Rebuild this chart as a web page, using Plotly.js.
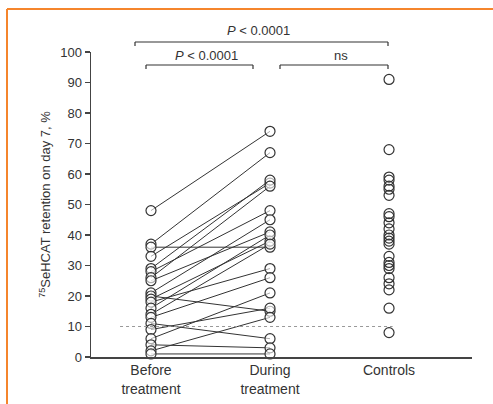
<!DOCTYPE html>
<html>
<head>
<meta charset="utf-8">
<script src="https://cdn.plot.ly/plotly-3.0.1.min.js"></script>
<style>
  html, body { margin: 0; padding: 0; background: #fff; }
  #chart { width: 493px; height: 404px; }
</style>
</head>
<body>
<div id="chart"></div>
<script>
// ---- data ----
const categories = ['Before<br>treatment', 'During<br>treatment', 'Controls'];
const categoryX = [1, 2, 3];
// paired patients: before[i] -> during[i]
const before = [48, 37, 36, 33, 29, 28, 26, 25, 21, 20, 19, 18, 16, 14, 13, 11, 9, 6, 4, 2, 1];
const during = [74, 67, 36, 57, 58, 48, 56, 41, 45, 15, 38, 29, 40, 37, 26, 6, 16, 21, 3, 13, 1];
const controls = [91, 68, 59, 58, 56, 55, 53, 47, 46, 44, 42, 40, 39, 38, 37, 33, 31, 30, 29, 26, 24, 22, 16, 8];
const yTickVals = [0, 10, 20, 30, 40, 50, 60, 70, 80, 90, 100];
const cutoff = 10;
const pLabels = ['<i>P</i> < 0.0001', '<i>P</i> < 0.0001', 'ns'];

// ---- layout geometry ----
const W = 493, H = 404;
const M = { l: 91, r: 21, t: 52, b: 47 };
const xRange = [0.496, 3.697];
const pw = W - M.l - M.r, ph = H - M.t - M.b;
const pxX = px => (px - M.l) / pw;
const pxY = py => (H - M.b - py) / ph;

const ink = '#333333';
const font = 'Liberation Sans, Arial, Helvetica, sans-serif';

// connecting lines
const lx = [], ly = [];
before.forEach((b, i) => {
  lx.push(categoryX[0], categoryX[1], null);
  ly.push(b, during[i], null);
});

const traces = [
  { x: lx, y: ly, mode: 'lines', type: 'scatter', line: { color: ink, width: 1 },
    hoverinfo: 'skip', showlegend: false, cliponaxis: false },
  { x: before.map(() => categoryX[0]), y: before, mode: 'markers', type: 'scatter',
    marker: { symbol: 'circle', size: 10, color: 'rgba(255,255,255,0.6)', line: { color: ink, width: 1.2 } },
    showlegend: false, cliponaxis: false },
  { x: during.map(() => categoryX[1]), y: during, mode: 'markers', type: 'scatter',
    marker: { symbol: 'circle', size: 10, color: 'rgba(255,255,255,0.6)', line: { color: ink, width: 1.2 } },
    showlegend: false, cliponaxis: false },
  { x: controls.map(() => categoryX[2]), y: controls, mode: 'markers', type: 'scatter',
    marker: { symbol: 'circle-open', size: 10, color: ink, line: { color: ink, width: 1.2 } },
    showlegend: false, cliponaxis: false }
];

function bracket(x0px, x1px, ypx, tick) {
  const x0 = pxX(x0px), x1 = pxX(x1px), y = pxY(ypx), yt = pxY(ypx + tick);
  const ln = { color: ink, width: 1.2 };
  return [
    { type: 'line', xref: 'paper', yref: 'paper', x0: x0, x1: x1, y0: y, y1: y, line: ln },
    { type: 'line', xref: 'paper', yref: 'paper', x0: x0, x1: x0, y0: y, y1: yt, line: ln },
    { type: 'line', xref: 'paper', yref: 'paper', x0: x1, x1: x1, y0: y, y1: yt, line: ln }
  ];
}

const orange = '#f5852c';
const shapes = [
  // dotted cut-off line
  { type: 'line', xref: 'x', yref: 'y', x0: 0.74, x1: 3.03, y0: cutoff, y1: cutoff,
    line: { color: '#999999', width: 1, dash: 'dot' } },
  ...bracket(135, 388, 42, 4),
  ...bracket(146, 253, 65, 4),
  ...bracket(280, 388, 65, 4),
  // orange frame (left and top edges)
  { type: 'line', xref: 'paper', yref: 'paper', x0: pxX(7), x1: pxX(7), y0: pxY(9), y1: pxY(410),
    line: { color: orange, width: 2 } },
  { type: 'line', xref: 'paper', yref: 'paper', x0: pxX(7), x1: pxX(500), y0: pxY(9), y1: pxY(9),
    line: { color: orange, width: 2 } }
];

const annFont = { family: font, size: 13, color: ink };
const ann = (px, py, text) => ({ xref: 'paper', yref: 'paper', x: pxX(px), y: pxY(py),
  xanchor: 'center', yanchor: 'middle', text: text, showarrow: false, font: annFont });
const annotations = [
  ann(258, 31, pLabels[0]),
  ann(206, 55, pLabels[1]),
  ann(341, 55, pLabels[2])
];

const layout = {
  width: W, height: H,
  margin: M,
  paper_bgcolor: '#ffffff', plot_bgcolor: '#ffffff',
  font: { family: font, color: ink },
  showlegend: false,
  xaxis: {
    range: xRange, tickvals: categoryX, ticktext: categories,
    showline: true, linecolor: '#444', linewidth: 1.5, showgrid: false, zeroline: false,
    ticks: '', tickfont: { family: font, size: 14, color: ink }, fixedrange: true
  },
  yaxis: {
    range: [0, 100], tickvals: yTickVals,
    showline: true, linecolor: '#444', linewidth: 1.5, showgrid: false, zeroline: false,
    ticks: 'outside', ticklen: 5, tickcolor: '#444', tickwidth: 1.2,
    tickfont: { family: font, size: 13, color: ink },
    title: { text: '<sup>75</sup>SeHCAT retention on day 7, %', font: { family: font, size: 13, color: ink }, standoff: 6 },
    fixedrange: true
  },
  shapes: shapes,
  annotations: annotations
};

Plotly.newPlot('chart', traces, layout, { displayModeBar: false, staticPlot: true });
</script>
</body>
</html>
